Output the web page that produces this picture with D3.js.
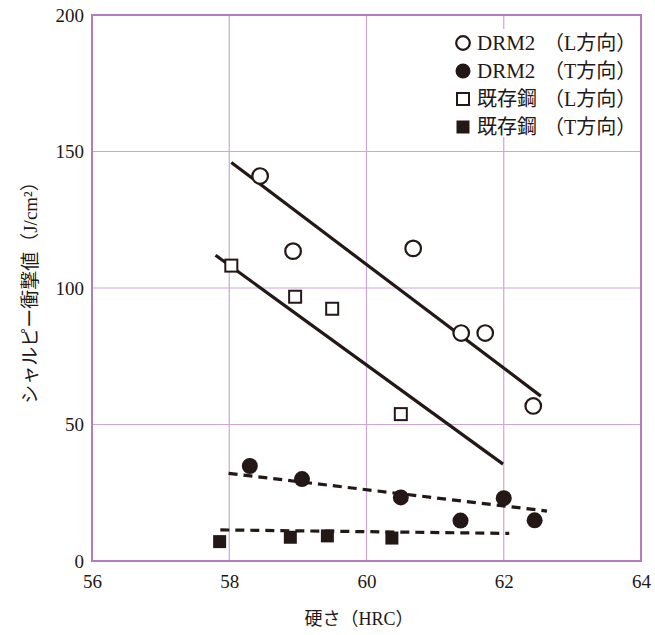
<!DOCTYPE html>
<html><head><meta charset="utf-8">
<script src="https://cdn.jsdelivr.net/npm/d3@7"></script>
<style>body{margin:0;background:#fff}</style>
</head><body><svg id="c" width="655" height="635"></svg>
<script>
// ---- data ----
const xTicks = [56, 58, 60, 62, 64];
const yTicks = [0, 50, 100, 150, 200];
const drmL_x = [58.45, 58.93, 60.68, 61.38, 61.73, 62.43];
const drmL_y = [141, 113.5, 114.5, 83.5, 83.5, 56.8];
const drmT_x = [58.30, 59.06, 60.50, 61.37, 62.00, 62.45];
const drmT_y = [34.8, 30.0, 23.3, 14.8, 23.0, 14.9];
const exL_x = [58.03, 58.96, 59.50, 60.50];
const exL_y = [108.2, 96.8, 92.4, 53.8];
const exT_x = [57.86, 58.89, 59.43, 60.37];
const exT_y = [7.1, 8.7, 9.2, 8.4];
// fitted trend lines: [x1, y1, x2, y2]
const fitDrmL = [58.03, 146, 62.54, 60.4];
const fitExL = [57.80, 112, 61.99, 35.5];
const fitDrmT = [57.99, 32.1, 62.63, 18.3];
const fitExT = [57.87, 11.4, 62.08, 10.1];
const legendNames = ["DRM2", "DRM2", "既存鋼", "既存鋼"];
const legendDirs = ["（L方向）", "（T方向）", "（L方向）", "（T方向）"];
const xTitle = "硬さ（HRC）";
const yTitle = "シャルピー衝撃値（J/cm²）";

// ---- drawing ----
const ink = "#231815", gridC = "#cda6d4", axisC = "#b37cbd";
const font = "'Liberation Serif','Noto Sans CJK JP',serif";
const svg = d3.select("#c");
const L = 92, R = 641, T = 15, B = 561;
const x = d3.scaleLinear().domain([56, 64]).range([L, R]);
const y = d3.scaleLinear().domain([0, 200]).range([B, T]);

// grid
const g = svg.append("g");
g.selectAll(".gx").data(xTicks.slice(1, -1)).join("line")
  .attr("x1", d => x(d)).attr("x2", d => x(d)).attr("y1", T).attr("y2", B)
  .attr("stroke", gridC).attr("stroke-width", 1.2);
g.selectAll(".gy").data(yTicks.slice(1, -1)).join("line")
  .attr("y1", d => y(d)).attr("y2", d => y(d)).attr("x1", L).attr("x2", R)
  .attr("stroke", gridC).attr("stroke-width", 1.2);

// legend background (covers grid)
svg.append("rect").attr("x", 448).attr("y", 29).attr("width", 190).attr("height", 108).attr("fill", "#fff");

// border
svg.append("rect").attr("x", L).attr("y", T).attr("width", R - L).attr("height", B - T)
  .attr("fill", "none").attr("stroke", axisC).attr("stroke-width", 2);

// axes tick labels via d3 axes
const xAxis = svg.append("g").attr("transform", `translate(0,${B})`)
  .call(d3.axisBottom(x).tickValues(xTicks).tickSize(0).tickPadding(14).tickFormat(d3.format("d")));
const yAxis = svg.append("g").attr("transform", `translate(${L},0)`)
  .call(d3.axisLeft(y).tickValues(yTicks).tickSize(0).tickPadding(8).tickFormat(d3.format("d")));
[xAxis, yAxis].forEach(a => {
  a.select(".domain").remove();
  a.selectAll("text").attr("font-family", font).attr("font-size", 19).attr("fill", ink);
});

// trend lines
function fit(f, dash) {
  svg.append("line").attr("x1", x(f[0])).attr("y1", y(f[1])).attr("x2", x(f[2])).attr("y2", y(f[3]))
    .attr("stroke", ink).attr("stroke-width", 3.2).attr("stroke-dasharray", dash || null);
}
fit(fitDrmL); fit(fitExL); fit(fitDrmT, "9,6"); fit(fitExT, "9,6");

// markers
function circles(xs, ys, filled) {
  svg.append("g").selectAll("circle").data(xs.map((d, i) => [d, ys[i]])).join("circle")
    .attr("cx", d => x(d[0])).attr("cy", d => y(d[1])).attr("r", filled ? 8 : 7.8)
    .attr("fill", filled ? ink : "#fff").attr("stroke", ink).attr("stroke-width", filled ? 0 : 2.2);
}
function squares(xs, ys, filled) {
  const s = filled ? 13 : 12;
  svg.append("g").selectAll("rect").data(xs.map((d, i) => [d, ys[i]])).join("rect")
    .attr("x", d => x(d[0]) - s / 2).attr("y", d => y(d[1]) - s / 2).attr("width", s).attr("height", s)
    .attr("fill", filled ? ink : "#fff").attr("stroke", ink).attr("stroke-width", filled ? 0 : 2);
}
circles(drmL_x, drmL_y, false);
circles(drmT_x, drmT_y, true);
squares(exL_x, exL_y, false);
squares(exT_x, exT_y, true);

// legend
const ly = [43, 71, 99, 127];
const lg = svg.append("g");
lg.append("circle").attr("cx", 463).attr("cy", ly[0]).attr("r", 6.8).attr("fill", "#fff").attr("stroke", ink).attr("stroke-width", 2.2);
lg.append("circle").attr("cx", 463).attr("cy", ly[1]).attr("r", 7.5).attr("fill", ink);
lg.append("rect").attr("x", 457).attr("y", ly[2] - 6).attr("width", 12).attr("height", 12).attr("fill", "#fff").attr("stroke", ink).attr("stroke-width", 2);
lg.append("rect").attr("x", 456.5).attr("y", ly[3] - 6.5).attr("width", 13).attr("height", 13).attr("fill", ink);
const lt = lg.selectAll("text").data(legendNames).join("text")
  .attr("y", (d, i) => ly[i]).attr("dy", "0.35em")
  .attr("font-family", font).attr("font-size", 20).attr("fill", ink);
lt.append("tspan").attr("x", 477).attr("font-size", (d, i) => i < 2 ? 21 : 20).text(d => d);
lt.append("tspan").attr("x", 544).text((d, i) => legendDirs[i]);

// titles
svg.append("text").attr("x", 359).attr("y", 619).attr("text-anchor", "middle").attr("dy", "0.35em")
  .attr("font-family", font).attr("font-size", 18).attr("fill", ink).text(xTitle);
svg.append("text").attr("transform", "translate(30,288) rotate(-90)").attr("text-anchor", "middle").attr("dy", "0.35em")
  .attr("font-family", font).attr("font-size", 19).attr("fill", ink).text(yTitle);
</script></body></html>
